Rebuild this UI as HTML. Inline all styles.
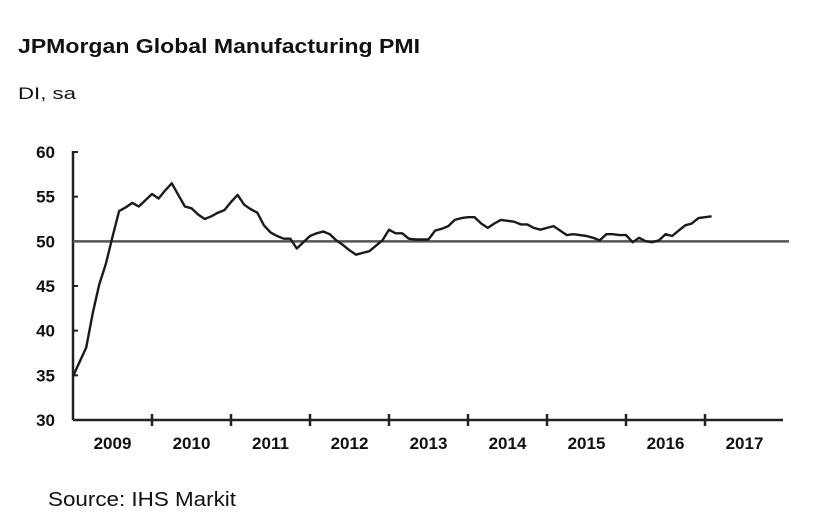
<!DOCTYPE html>
<html><head><meta charset="utf-8"><style>
html,body{margin:0;padding:0;background:#fff;}
svg{display:block;font-family:"Liberation Sans",Arial,sans-serif;}
</style></head><body>
<svg id="chart" width="816" height="530" viewBox="0 0 816 530" xmlns="http://www.w3.org/2000/svg">
<text x="18" y="53" font-size="20" font-weight="bold" fill="#111" textLength="402" lengthAdjust="spacingAndGlyphs">JPMorgan Global Manufacturing PMI</text>
<text x="18" y="99" font-size="17" fill="#111" textLength="58" lengthAdjust="spacingAndGlyphs">DI, sa</text>
<g id="yaxis"></g>
<g id="xaxis"></g>
<g id="plot"></g>
<text x="48" y="506" font-size="20" fill="#111" textLength="188" lengthAdjust="spacingAndGlyphs">Source: IHS Markit</text>
</svg>
<script>
const yTicks=[30,35,40,45,50,55,60];
const yearLabels=['2009','2010','2011','2012','2013','2014','2015','2016','2017'];
const referenceLevel=50;
const pmiValues=[34.9,36.5,38.1,42.0,45.2,47.5,50.5,53.4,53.8,54.3,53.9,54.6,
55.3,54.8,55.7,56.5,55.2,53.9,53.7,53.0,52.5,52.8,53.2,53.5,
54.4,55.2,54.1,53.6,53.2,51.8,51.0,50.6,50.3,50.3,49.2,49.9,
50.6,50.9,51.1,50.8,50.1,49.6,49.0,48.5,48.7,48.9,49.5,50.1,
51.3,50.9,50.9,50.3,50.2,50.2,50.2,51.2,51.4,51.7,52.4,52.6,
52.7,52.7,52.0,51.5,52.0,52.4,52.3,52.2,51.9,51.9,51.5,51.3,
51.5,51.7,51.2,50.7,50.8,50.7,50.6,50.4,50.1,50.8,50.8,50.7,
50.7,49.9,50.4,50.0,49.9,50.1,50.8,50.6,51.2,51.8,52.0,52.6,
52.7,52.8];
const NS='http://www.w3.org/2000/svg';
const x0=73, yearW=79, yTop=152, yBot=420, xEnd=783;
function xScale(m){return x0+m*yearW/12;}
function yScale(v){return yBot-(v-30)/30*(yBot-yTop);}
function mk(tag,attrs,parent){const e=document.createElementNS(NS,tag);for(const k in attrs)e.setAttribute(k,attrs[k]);parent.appendChild(e);return e;}
const ya=document.getElementById('yaxis'),xa=document.getElementById('xaxis'),pl=document.getElementById('plot');
let l=mk('line',{x1:x0,y1:yTop-1,x2:x0,y2:yBot,stroke:'#222','stroke-width':2.5},ya);


yTicks.forEach(v=>{
 const y=yScale(v);
 const t=mk('line',{x1:x0,y1:y,x2:x0+5,y2:y,stroke:'#222','stroke-width':2},ya);
 
 
 const tx=mk('text',{x:55,y:y+6,'font-size':17,'font-weight':'bold','text-anchor':'end',fill:'#111'},ya);
 tx.textContent=v;
 
 
});
l=mk('line',{x1:x0,y1:yBot,x2:xEnd,y2:yBot,stroke:'#222','stroke-width':2.5},xa);


yearLabels.forEach((lab,i)=>{
 if(i>0){const t=mk('line',{x1:xScale(i*12),y1:yBot-6,x2:xScale(i*12),y2:yBot+6,stroke:'#222','stroke-width':2.5},xa);
 
 }
 const tx=mk('text',{x:xScale(i*12+6),y:yBot+29,'font-size':17,'font-weight':'bold','text-anchor':'middle',fill:'#111'},xa);
 tx.textContent=lab;
 
 
});
const ref=mk('line',{x1:x0,y1:yScale(referenceLevel),x2:789,y2:yScale(referenceLevel),stroke:'#555','stroke-width':2.5},pl);


const d=pmiValues.map((v,i)=>(i?'L':'M')+xScale(i).toFixed(1)+','+yScale(v).toFixed(1)).join('');
const p=mk('path',{d:d,fill:'none',stroke:'#1a1a1a','stroke-width':2.4,'stroke-linejoin':'round'},pl);


</script>
</body></html>
